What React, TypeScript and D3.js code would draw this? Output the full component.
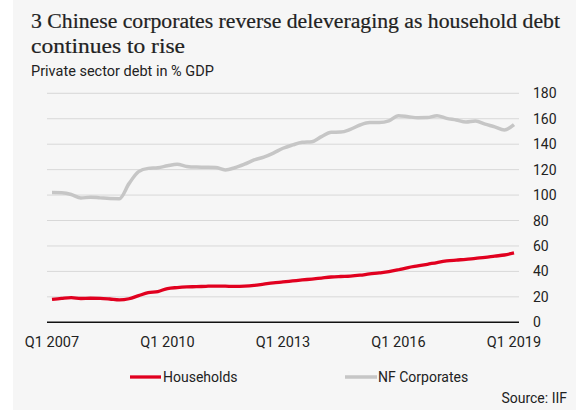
import React from "react";
import * as d3 from "d3";

const quarters: string[] = [];
for (let y = 2007; y <= 2019; y++) {
  for (let q = 1; q <= 4; q++) {
    if (y === 2019 && q > 1) break;
    quarters.push(`Q${q} ${y}`);
  }
}

const households = [
  18, 18.8, 19.4, 18.7, 18.9, 18.8, 18.3, 17.6, 18.5, 21, 23.3, 24.2, 26.5, 27.3, 27.8, 28,
  28.3, 28.5, 28.4, 28.2, 28.4, 29, 30, 31, 31.7, 32.5, 33.3, 34, 34.8, 35.6, 36, 36.3,
  37, 38, 38.8, 39.8, 41.3, 43, 44.3, 45.6, 47, 48.2, 48.9, 49.5, 50.3, 51, 52, 52.9, 54.5,
];

const corporates = [
  102, 101.8, 100.5, 97.7, 98.3, 97.8, 97.3, 97.2, 109, 118.4, 121, 121.5, 123, 124.2, 122.5, 122,
  121.9, 121.7, 119.8, 121.5, 124.3, 127.6, 129.8, 133, 136.8, 139.4, 141.5, 142, 146, 149.4, 149.5, 151.7,
  155.1, 157, 157, 158.3, 162.4, 161.6, 160.8, 160.9, 162.4, 160.3, 159, 157.4, 158.2, 155.8, 153.6, 151.2, 155.3,
];

const xTickLabels = ["Q1 2007", "Q1 2010", "Q1 2013", "Q1 2016", "Q1 2019"];
const yTicks = [0, 20, 40, 60, 80, 100, 120, 140, 160, 180];

const RED = "#e1001f";
const GRAY = "#c6c6c6";
const SANS = "Roboto, 'Noto Sans', sans-serif";
const SERIF = "'Liberation Serif', 'DejaVu Serif', serif";

export default function App() {
  const W = 576;
  const H = 410;
  const x = d3.scalePoint<string>().domain(quarters).range([52, 514]);
  const y = d3.scaleLinear().domain([0, 180]).range([322.3, 93.3]);
  const line = d3
    .line<number>()
    .x((_, i) => x(quarters[i]) as number)
    .y((d) => y(d))
    .curve(d3.curveMonotoneX);
  const gridX0 = 47;
  const gridX1 = 519;

  return (
    <svg
      width={W}
      height={H}
      style={{ position: "absolute", left: 0, top: 0, display: "block" }}
    >
      <rect x={0} y={0} width={W} height={H} fill="#ffffff" />
      <rect x={13} y={0} width={W - 13} height={H} fill="#f6f6f6" />
      <text
        x={31}
        y={28}
        fontFamily={SERIF}
        fontSize={20}
        fill="#222"
        stroke="#222"
        strokeWidth={0.2}
        textLength={529}
        lengthAdjust="spacingAndGlyphs"
      >
        3 Chinese corporates reverse deleveraging as household debt
      </text>
      <text
        x={31}
        y={53}
        fontFamily={SERIF}
        fontSize={20}
        fill="#222"
        stroke="#222"
        strokeWidth={0.2}
        textLength={154}
        lengthAdjust="spacingAndGlyphs"
      >
        continues to rise
      </text>
      <text x={31} y={76} fontFamily={SANS} fontSize={14.5} fill="#222">
        Private sector debt in % GDP
      </text>

      {yTicks.map((t) => (
        <g key={t}>
          {t !== 0 && (
            <line x1={gridX0} x2={gridX1} y1={y(t)} y2={y(t)} stroke="#d8d8d8" strokeWidth={1} />
          )}
          <text x={533} y={y(t)} dy="0.36em" fontFamily={SANS} fontSize={14} fill="#222">
            {t}
          </text>
        </g>
      ))}

      <path d={line(corporates) || ""} fill="none" stroke={GRAY} strokeWidth={3.5} strokeLinejoin="round" />
      <path d={line(households) || ""} fill="none" stroke={RED} strokeWidth={3.3} strokeLinejoin="round" />

      <line x1={gridX0} x2={gridX1} y1={y(0)} y2={y(0)} stroke="#111" strokeWidth={1.5} />

      {xTickLabels.map((l) => (
        <text
          key={l}
          x={x(l) as number}
          y={347}
          textAnchor="middle"
          fontFamily={SANS}
          fontSize={14.5}
          fill="#222"
        >
          {l}
        </text>
      ))}

      <line x1={130} x2={161} y1={377} y2={377} stroke={RED} strokeWidth={3.3} />
      <text x={163} y={382} fontFamily={SANS} fontSize={14} fill="#222">
        Households
      </text>
      <line x1={345} x2={377} y1={377} y2={377} stroke={GRAY} strokeWidth={3.5} />
      <text x={378} y={382} fontFamily={SANS} fontSize={14} fill="#222">
        NF Corporates
      </text>

      <text x={567} y={403} textAnchor="end" fontFamily={SANS} fontSize={14} fill="#222">
        Source: IIF
      </text>
    </svg>
  );
}
